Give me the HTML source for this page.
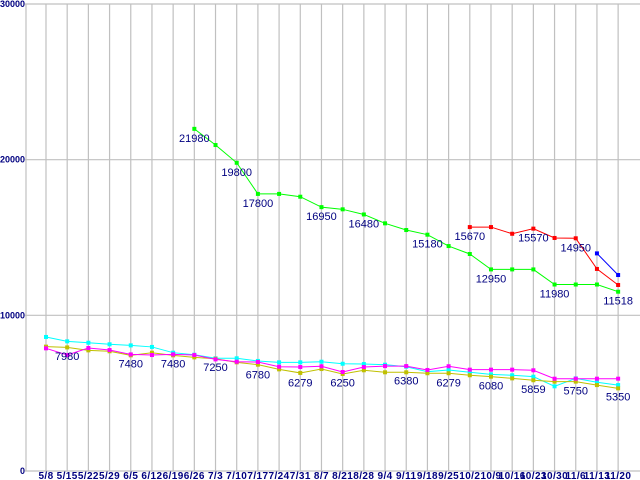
<!DOCTYPE html>
<html><head><meta charset="utf-8"><style>
html,body{margin:0;padding:0;background:#fff;width:640px;height:480px;overflow:hidden}
svg{display:block}
.ax{font-family:"Liberation Sans",sans-serif;font-size:10px;font-weight:bold;fill:#000080;letter-spacing:0.4px}
.ay{font-family:"Liberation Sans",sans-serif;font-size:9px;font-weight:bold;fill:#000080}
.lb{font-family:"Liberation Sans",sans-serif;font-size:11px;fill:#000080}
</style></head><body>
<svg id="chart" width="640" height="480"></svg>
<script>
const categories=["5/8","5/15","5/22","5/29","6/5","6/12","6/19","6/26","7/3","7/10","7/17","7/24","7/31","8/7","8/21","8/28","9/4","9/11","9/18","9/25","10/2","10/9","10/16","10/23","10/30","11/6","11/13","11/20"];
const yTicks=[0,10000,20000,30000];
const greenValues=[null,null,null,null,null,null,null,21980,20940,19800,17800,17800,17620,16950,16810,16480,15910,15480,15180,14450,13940,12950,12950,12950,11980,11980,11980,11518];
const redValues=[null,null,null,null,null,null,null,null,null,null,null,null,null,null,null,null,null,null,null,null,15670,15670,15240,15570,14970,14950,12980,11950];
const blueValues=[null,null,null,null,null,null,null,null,null,null,null,null,null,null,null,null,null,null,null,null,null,null,null,null,null,null,13980,12590];
const cyanValues=[8610,8330,8240,8140,8070,7970,7600,7470,7240,7240,7070,6980,6980,7020,6890,6870,6830,6700,6380,6490,6340,6210,6150,6060,5440,5950,5700,5520];
const oliveValues=[7990,7940,7750,7690,7430,7600,7430,7300,7210,6980,6830,6530,6300,6550,6230,6470,6340,6340,6280,6280,6150,6060,5950,5830,5740,5740,5520,5310];
const magentaValues=[7880,7450,7900,7770,7490,7450,7490,7450,7170,7020,7000,6700,6680,6730,6360,6680,6740,6740,6490,6730,6510,6510,6510,6470,5930,5930,5930,5930];
const labelIndex=[1,4,6,8,10,12,14,17,19,21,23,25,27,7,9,10,13,15,18,21,24,27,20,23,25];
const labelText=["7980","7480","7480","7250","6780","6279","6250","6380","6279","6080","5859","5750","5350","21980","19800","17800","16950","16480","15180","12950","11980","11518","15670","15570","14950"];
const labelValue=[7980,7480,7480,7250,6780,6279,6250,6380,6279,6080,5859,5750,5350,21980,19800,17800,16950,16480,15180,12950,11980,11518,15670,15570,14950];

const svg=document.getElementById('chart');
const NS='http://www.w3.org/2000/svg';
const X0=46,DX=21.19,Y0=471,Y1=4,YMAX=30000;
function xs(i){return X0+i*DX;}
function ys(v){return Y0-(Y0-Y1)*v/YMAX;}
function mk(tag,attrs,parent){const e=document.createElementNS(NS,tag);for(const k in attrs)e.setAttribute(k,attrs[k]);(parent||svg).appendChild(e);return e;}

const grid=mk('g',{});


categories.forEach((c,i)=>{
  const l=mk('line',{x1:xs(i),x2:xs(i),y1:Y1,y2:Y0,stroke:'#c0c0c0','stroke-width':1.2},grid);
  
  
  const t=mk('text',{x:xs(i),y:479,'text-anchor':'middle',class:'ax'});
  t.textContent=c;
  
  
});
yTicks.forEach(v=>{
  const l=mk('line',{x1:25,x2:640,y1:ys(v),y2:ys(v),stroke:'#c0c0c0','stroke-width':1.2},grid);
  
  
  const t=mk('text',{x:25,y:ys(v)+3,'text-anchor':'end',class:'ay'});
  t.textContent=String(v);
  
  
});
const yax=mk('line',{x1:26,x2:26,y1:Y1,y2:Y0,stroke:'#c0c0c0','stroke-width':1.2});



function series(vals,color,name){
  const g=mk('g',{});
  
  
  let d='';let pen=false;
  vals.forEach((v,i)=>{if(v==null){pen=false;return;}d+=(pen?'L':'M')+xs(i)+' '+ys(v)+' ';pen=true;});
  const p=mk('path',{d:d,fill:'none',stroke:color,'stroke-width':1},g);
  
  
  vals.forEach((v,i)=>{if(v==null)return;
    const r=mk('rect',{x:xs(i)-2,y:ys(v)-2,width:4,height:4,fill:color},g);
    
    
  });
}
series(cyanValues,'#00ffff','cyan-series');
series(oliveValues,'#c0c000','olive-series');
series(magentaValues,'#ff00ff','magenta-series');
series(greenValues,'#00ff00','green-series');
series(redValues,'#ff0000','red-series');
series(blueValues,'#0000ff','blue-series');

labelIndex.forEach((idx,k)=>{
  const t=mk('text',{x:xs(idx),y:ys(labelValue[k])+13,'text-anchor':'middle',class:'lb'});
  t.textContent=labelText[k];
  
  
});
</script>
</body></html>
